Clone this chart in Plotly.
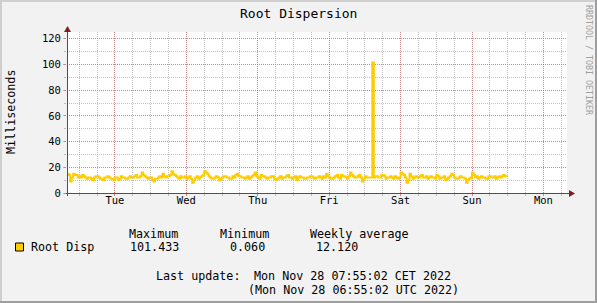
import plotly.graph_objects as go
import pandas as pd

# ---------------- data (30-minute steps) ----------------
start_time = "2022-11-21 08:00"
step_minutes = 30
root_disp = [
    # Mon 08:00 -> Tue 08:00
    15, 14, 9, 12, 15, 14, 14, 12, 13, 12, 14, 13, 12, 11, 12, 12, 11, 10, 12, 13, 13, 12, 11, 11,
    10, 12, 12, 13, 12, 11, 11, 10, 12, 12, 10, 11, 13, 12, 12, 11, 11, 12, 13, 12, 12, 13, 14, 12,
    # Tue 08:00 -> Wed 08:00
    12, 13, 16, 14, 13, 12, 11, 12, 12, 10, 9, 11, 11, 12, 13, 12, 15, 13, 12, 13, 13, 14, 17, 15,
    14, 13, 12, 11, 13, 12, 12, 13, 11, 12, 13, 11, 8, 10, 12, 13, 11, 12, 13, 14, 17, 16, 15, 13,
    # Wed 08:00 -> Thu 08:00
    12, 11, 11, 12, 13, 12, 10, 11, 12, 13, 13, 12, 12, 11, 11, 13, 12, 14, 15, 13, 13, 12, 12, 11,
    12, 13, 11, 12, 13, 14, 16, 13, 12, 11, 14, 13, 13, 12, 11, 12, 12, 13, 13, 11, 10, 11, 12, 13,
    # Thu 08:00 -> Fri 08:00
    11, 12, 12, 13, 14, 12, 12, 11, 12, 13, 10, 12, 13, 12, 12, 11, 11, 12, 12, 13, 13, 12, 11, 12,
    12, 13, 12, 11, 13, 12, 15, 13, 12, 11, 11, 12, 13, 14, 12, 11, 14, 13, 13, 12, 11, 13, 16, 14,
    # Fri 08:00 -> Sat 08:00
    13, 12, 12, 13, 14, 12, 9, 11, 13, 12, 12, 12, 12, 101.433, 12, 13, 13, 12, 12, 14, 14, 13, 11, 12,
    12, 13, 12, 11, 13, 12, 11, 12, 16, 15, 14, 12, 8, 10, 15, 13, 11, 12, 13, 12, 12, 13, 14, 12,
    # Sat 08:00 -> Sun 08:00
    12, 13, 11, 12, 13, 12, 12, 11, 14, 13, 11, 12, 12, 13, 10, 11, 12, 13, 15, 14, 12, 11, 11, 12,
    13, 12, 12, 11, 8, 10, 11, 12, 16, 14, 12, 13, 11, 12, 13, 12, 12, 11, 11, 13, 13, 12, 12, 13,
    # Sun 08:00 -> Sun 12:00
    11, 12, 13, 12, 13, 14, 13, 13,
]
day_ticks = ["2022-11-22", "2022-11-23", "2022-11-24", "2022-11-25",
             "2022-11-26", "2022-11-27", "2022-11-28"]
day_labels = ["Tue", "Wed", "Thu", "Fri", "Sat", "Sun", "Mon"]
y_ticks = [0, 20, 40, 60, 80, 100, 120]
x_range = ["2022-11-21 07:55:02", "2022-11-28 07:55:02"]
stat_headers = ["Maximum", "Minimum", "Weekly average"]
stat_values = ["101.433", "0.060", "12.120"]
series_name = "Root Disp"

# ---------------- figure ----------------
t0 = pd.Timestamp(start_time)
times = [t0 + pd.Timedelta(minutes=step_minutes * i) for i in range(len(root_disp) + 1)]
yvals = root_disp + [root_disp[-1]]

LINE_COL = "#FFCC00"
MGRID = "rgba(222,79,79,0.5)"
GRID = "rgba(143,143,143,0.55)"
FONT = "DejaVu Sans Mono"

W, H = 597, 303
L, R, T, B = 67, 30, 32, 110
PW, PH = W - L - R, H - T - B


def px(X):
    return (X - L) / PW


def py(Y):
    return (T + PH - Y) / PH


fig = go.Figure()
fig.add_trace(go.Scatter(x=times, y=yvals, mode="lines", line=dict(color=LINE_COL, width=2, shape="hv"),
                         showlegend=False, hoverinfo="skip"))

fig.update_xaxes(
    type="date", range=x_range, tickmode="array", tickvals=day_ticks, ticktext=day_labels,
    showgrid=True, gridcolor=MGRID, griddash="1px,1px", gridwidth=1,
    ticks="outside", ticklen=2, tickcolor=MGRID, ticklabelstandoff=-5,
    showline=False, zeroline=False,
    tickfont=dict(family=FONT, size=10.5, color="black"),
    minor=dict(dtick=6 * 3600 * 1000, tick0="2022-11-22", showgrid=True, gridcolor=GRID,
               griddash="1px,1px", ticks="outside", ticklen=2, tickcolor=GRID),
)
fig.update_yaxes(
    range=[0, PH / 1.2857], tickmode="array", tickvals=y_ticks,
    showgrid=True, gridcolor=MGRID, griddash="1px,1px", gridwidth=1,
    ticks="outside", ticklen=3, tickcolor=MGRID,
    showline=False, zeroline=False,
    tickfont=dict(family=FONT, size=10.5, color="black"),
    minor=dict(dtick=10, tick0=0, showgrid=True, gridcolor=GRID, griddash="1px,1px",
               ticks="outside", ticklen=2, tickcolor=GRID),
)

shapes = []
# outer 3D border
shapes.append(dict(type="rect", xref="paper", yref="paper", x0=px(0), x1=px(W), y0=py(H - 2), y1=py(H),
                   fillcolor="#9E9E9E", line_width=0, layer="above"))
shapes.append(dict(type="rect", xref="paper", yref="paper", x0=px(W - 2), x1=px(W), y0=py(H), y1=py(0),
                   fillcolor="#9E9E9E", line_width=0, layer="above"))
shapes.append(dict(type="rect", xref="paper", yref="paper", x0=px(0), x1=px(W - 2), y0=py(2), y1=py(0),
                   fillcolor="#CFCFCF", line_width=0, layer="above"))
shapes.append(dict(type="rect", xref="paper", yref="paper", x0=px(0), x1=px(2), y0=py(H - 2), y1=py(0),
                   fillcolor="#CFCFCF", line_width=0, layer="above"))
# axes lines
shapes.append(dict(type="line", xref="paper", yref="paper", x0=px(66), x1=px(570), y0=py(193.5), y1=py(193.5),
                   line=dict(color="#505050", width=1), layer="above"))
shapes.append(dict(type="line", xref="paper", yref="paper", x0=px(67.5), x1=px(67.5), y0=py(196), y1=py(31),
                   line=dict(color="#505050", width=1), layer="above"))
# arrows
shapes.append(dict(type="path", xref="paper", yref="paper",
                   path=f"M {px(67.5)} {py(26)} L {px(64)} {py(32)} L {px(71)} {py(32)} Z",
                   fillcolor="#801F1F", line_width=0, layer="above"))
shapes.append(dict(type="path", xref="paper", yref="paper",
                   path=f"M {px(575)} {py(193.5)} L {px(569)} {py(190)} L {px(569)} {py(197)} Z",
                   fillcolor="#801F1F", line_width=0, layer="above"))
# legend swatch
shapes.append(dict(type="rect", xref="paper", yref="paper", x0=px(15.5), x1=px(23.5), y0=py(251), y1=py(243),
                   fillcolor=LINE_COL, line=dict(color="black", width=1), layer="above"))
fig.update_layout(shapes=shapes)


def ann(text, X, Y, size=11.7, xanchor="left", color="black", angle=0):
    fig.add_annotation(text=text, xref="paper", yref="paper", x=px(X), y=py(Y), xanchor=xanchor,
                       yanchor="middle", showarrow=False, textangle=angle,
                       font=dict(family=FONT, size=size, color=color))


ann("Root Dispersion", 298, 13, size=13, xanchor="center")
ann("Milliseconds", 11, 112, size=11.7, xanchor="center", angle=-90)
ann("RRDTOOL / TOBI OETIKER", 589, 60, size=8.3, xanchor="center", color="#A0A0A0", angle=90)
ann(stat_headers[0], 127, 233.5)
ann(stat_headers[1], 217.5, 233.5)
ann(stat_headers[2], 308, 233.5)
ann(series_name, 28.5, 247)
ann(stat_values[0], 128, 247)
ann(stat_values[1], 228, 247)
ann(stat_values[2], 314, 247)
ann("Last update:", 154, 275.5)
ann("Mon Nov 28 07:55:02 CET 2022", 252, 275.5)
ann("(Mon Nov 28 06:55:02 UTC 2022)", 246, 290)

fig.update_layout(
    width=W, height=H, autosize=False,
    margin=dict(l=L, r=R, t=T, b=B, pad=0),
    paper_bgcolor="#F2F2F2", plot_bgcolor="white",
    showlegend=False,
)
fig.write_html("out.html")
